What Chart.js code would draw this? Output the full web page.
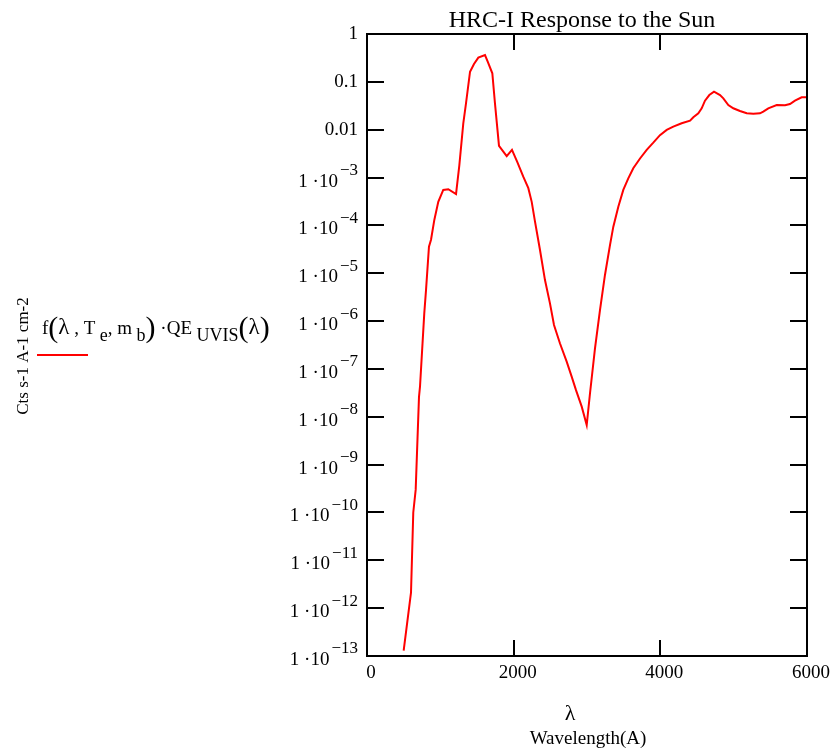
<!DOCTYPE html>
<html>
<head>
<meta charset="utf-8">
<script src="https://cdn.jsdelivr.net/npm/chart.js@4/dist/chart.umd.min.js"></script>
<style>
html,body{margin:0;padding:0;background:#fff;}
#wrap{width:835px;height:755px;}
</style>
</head>
<body>
<div id="wrap"><canvas id="c" width="835" height="755"></canvas></div>
<script>
// ---- data ----
const wavelength = [500,590,600,631,664,709,723,781,805,845,873,918,972,1040,1109,1214,1259,1313,1350,1405,1459,1518,1609,1646,1709,1745,1800,1905,1977,2050,2131,2200,2246,2291,2359,2427,2495,2550,2632,2723,2791,2850,2928,2996,3041,3109,3177,3245,3314,3359,3427,3495,3563,3631,3723,3814,3904,3995,4087,4177,4291,4405,4450,4518,4564,4609,4668,4732,4814,4859,4927,4995,5086,5178,5268,5359,5404,5472,5587,5700,5768,5836,5927,5995];
const response = [1.3e-13,1.6e-12,2.1e-12,1e-10,3e-10,2.6e-8,4.3e-8,1.45e-6,4.5e-6,3.6e-5,5e-5,1.3e-4,3.1e-4,5.5e-4,5.7e-4,4.5e-4,1.8e-3,0.0136,0.0356,0.163,0.236,0.32,0.364,0.264,0.151,0.0356,4.6e-3,2.8e-3,3.8e-3,2.1e-3,1.04e-3,6e-4,3.1e-4,1.2e-4,3.06e-5,7.2e-6,2.35e-6,8.3e-7,3.4e-7,1.42e-7,6.9e-8,3.6e-8,1.63e-8,6.7e-9,3.1e-8,2.7e-7,1.7e-6,9.2e-6,3.9e-5,9.4e-5,2.46e-4,5.5e-4,9.6e-4,1.56e-3,2.5e-3,3.8e-3,5.35e-3,7.7e-3,9.9e-3,0.01155,0.0136,0.0154,0.0182,0.022,0.028,0.0404,0.053,0.0622,0.053,0.0453,0.0328,0.028,0.0246,0.022,0.0216,0.022,0.0238,0.028,0.0328,0.0325,0.0344,0.0404,0.0475,0.0475];
const xTickValues = [0,2000,4000,6000];
const xTickLabels = ["0","2000","4000","6000"];
const yTickValues = [1,0.1,0.01,1e-3,1e-4,1e-5,1e-6,1e-7,1e-8,1e-9,1e-10,1e-11,1e-12,1e-13];
const yTickBase = ["1","0.1","0.01","1 \u00b710","1 \u00b710","1 \u00b710","1 \u00b710","1 \u00b710","1 \u00b710","1 \u00b710","1 \u00b710","1 \u00b710","1 \u00b710","1 \u00b710"];
const yTickSup = ["","","","\u22123","\u22124","\u22125","\u22126","\u22127","\u22128","\u22129","\u221210","\u221211","\u221212","\u221213"];
const titleText = "HRC-I Response to the Sun";
const xTitle1 = "\u03bb";
const xTitle2 = "Wavelength(A)";
const yTitle = "Cts s-1 A-1 cm-2";

const SERIF = '"Liberation Serif","Times New Roman",serif';

const decor = {
  id: 'decor',
  afterDraw(chart) {
    const {ctx, chartArea: a, scales: {x, y}} = chart;
    ctx.save();
    ctx.strokeStyle = '#000';
    ctx.lineWidth = 2;
    ctx.strokeRect(a.left, a.top, a.right - a.left, a.bottom - a.top);
    const seg = (x1, y1, x2, y2) => { ctx.beginPath(); ctx.moveTo(x1, y1); ctx.lineTo(x2, y2); ctx.stroke(); };
    yTickValues.forEach(v => {
      const py = Math.round(y.getPixelForValue(v));
      seg(a.left, py, a.left + 17, py);
      seg(a.right, py, a.right - 17, py);
    });
    xTickValues.forEach(v => {
      const px = Math.round(x.getPixelForValue(v));
      seg(px, a.bottom, px, a.bottom - 16);
      seg(px, a.top, px, a.top + 16);
    });
    ctx.fillStyle = '#000';
    // x tick labels
    ctx.font = '19px ' + SERIF;
    ctx.textAlign = 'center';
    ctx.textBaseline = 'middle';
    xTickValues.forEach((v, i) => {
      ctx.fillText(xTickLabels[i], x.getPixelForValue(v) + 4, a.bottom + 17);
    });
    // y tick labels
    const rightEdge = a.left - 9;
    yTickValues.forEach((v, i) => {
      const py = y.getPixelForValue(v);
      ctx.textBaseline = 'middle';
      ctx.textAlign = 'right';
      let r = rightEdge;
      if (yTickSup[i]) {
        ctx.font = '17px ' + SERIF;
        ctx.fillText(yTickSup[i], r, py - 7);
        r -= ctx.measureText(yTickSup[i]).width + 2;
      }
      ctx.font = '19px ' + SERIF;
      ctx.fillText(yTickBase[i], r, py + (yTickSup[i] ? 4 : 0));
    });
    // title
    ctx.font = '24px ' + SERIF;
    ctx.textAlign = 'center';
    ctx.textBaseline = 'alphabetic';
    ctx.fillText(titleText, 582, 27);
    // x axis titles
    ctx.font = '22px ' + SERIF;
    ctx.textBaseline = 'middle';
    ctx.fillText(xTitle1, 570, 714);
    ctx.font = '19px ' + SERIF;
    ctx.fillText(xTitle2, 588, 739);
    // rotated y title
    ctx.save();
    ctx.translate(24, 356);
    ctx.rotate(-Math.PI / 2);
    ctx.font = '17px ' + SERIF;
    ctx.textAlign = 'center';
    ctx.textBaseline = 'middle';
    ctx.fillText(yTitle, 0, 0);
    ctx.restore();
    // legend expression
    ctx.textAlign = 'left';
    ctx.textBaseline = 'alphabetic';
    let cx = 42;
    const base = 334;
    const piece = (t, size, dy) => {
      ctx.font = size + 'px ' + SERIF;
      ctx.fillText(t, cx, base + dy);
      cx += ctx.measureText(t).width;
    };
    piece('f', 19, 0);
    piece('(', 30, 3);
    piece('\u03bb', 23, 0);
    piece(' , T', 19, 0);
    piece(' e', 18, 7);
    piece(', m', 19, 0);
    piece(' b', 18, 7);
    piece(')', 30, 3);
    piece(' \u00b7QE', 19, 0);
    piece(' UVIS', 18, 7);
    piece('(', 30, 3);
    piece('\u03bb', 23, 0);
    piece(')', 30, 3);
    ctx.strokeStyle = '#ff0000';
    ctx.lineWidth = 2;
    seg(37, 355, 88, 355);
    ctx.restore();
  }
};

new Chart(document.getElementById('c'), {
  type: 'line',
  data: {
    datasets: [{
      data: wavelength.map((w, i) => ({x: w, y: response[i]})),
      borderColor: '#ff0000',
      borderWidth: 2,
      pointRadius: 0,
      tension: 0,
      fill: false
    }]
  },
  options: {
    responsive: false,
    animation: false,
    events: [],
    layout: {padding: {left: 367, top: 34, right: 28, bottom: 99}},
    plugins: {legend: {display: false}, title: {display: false}, tooltip: {enabled: false}},
    scales: {
      x: {
        type: 'linear', min: 0, max: 6000,
        ticks: {display: false}, grid: {display: false, drawTicks: false}, border: {display: false},
        afterFit: s => { s.height = 0; }
      },
      y: {
        type: 'logarithmic', min: 1e-13, max: 1,
        ticks: {display: false}, grid: {display: false, drawTicks: false}, border: {display: false},
        afterFit: s => { s.width = 0; }
      }
    }
  },
  plugins: [decor]
});
</script>
</body>
</html>
